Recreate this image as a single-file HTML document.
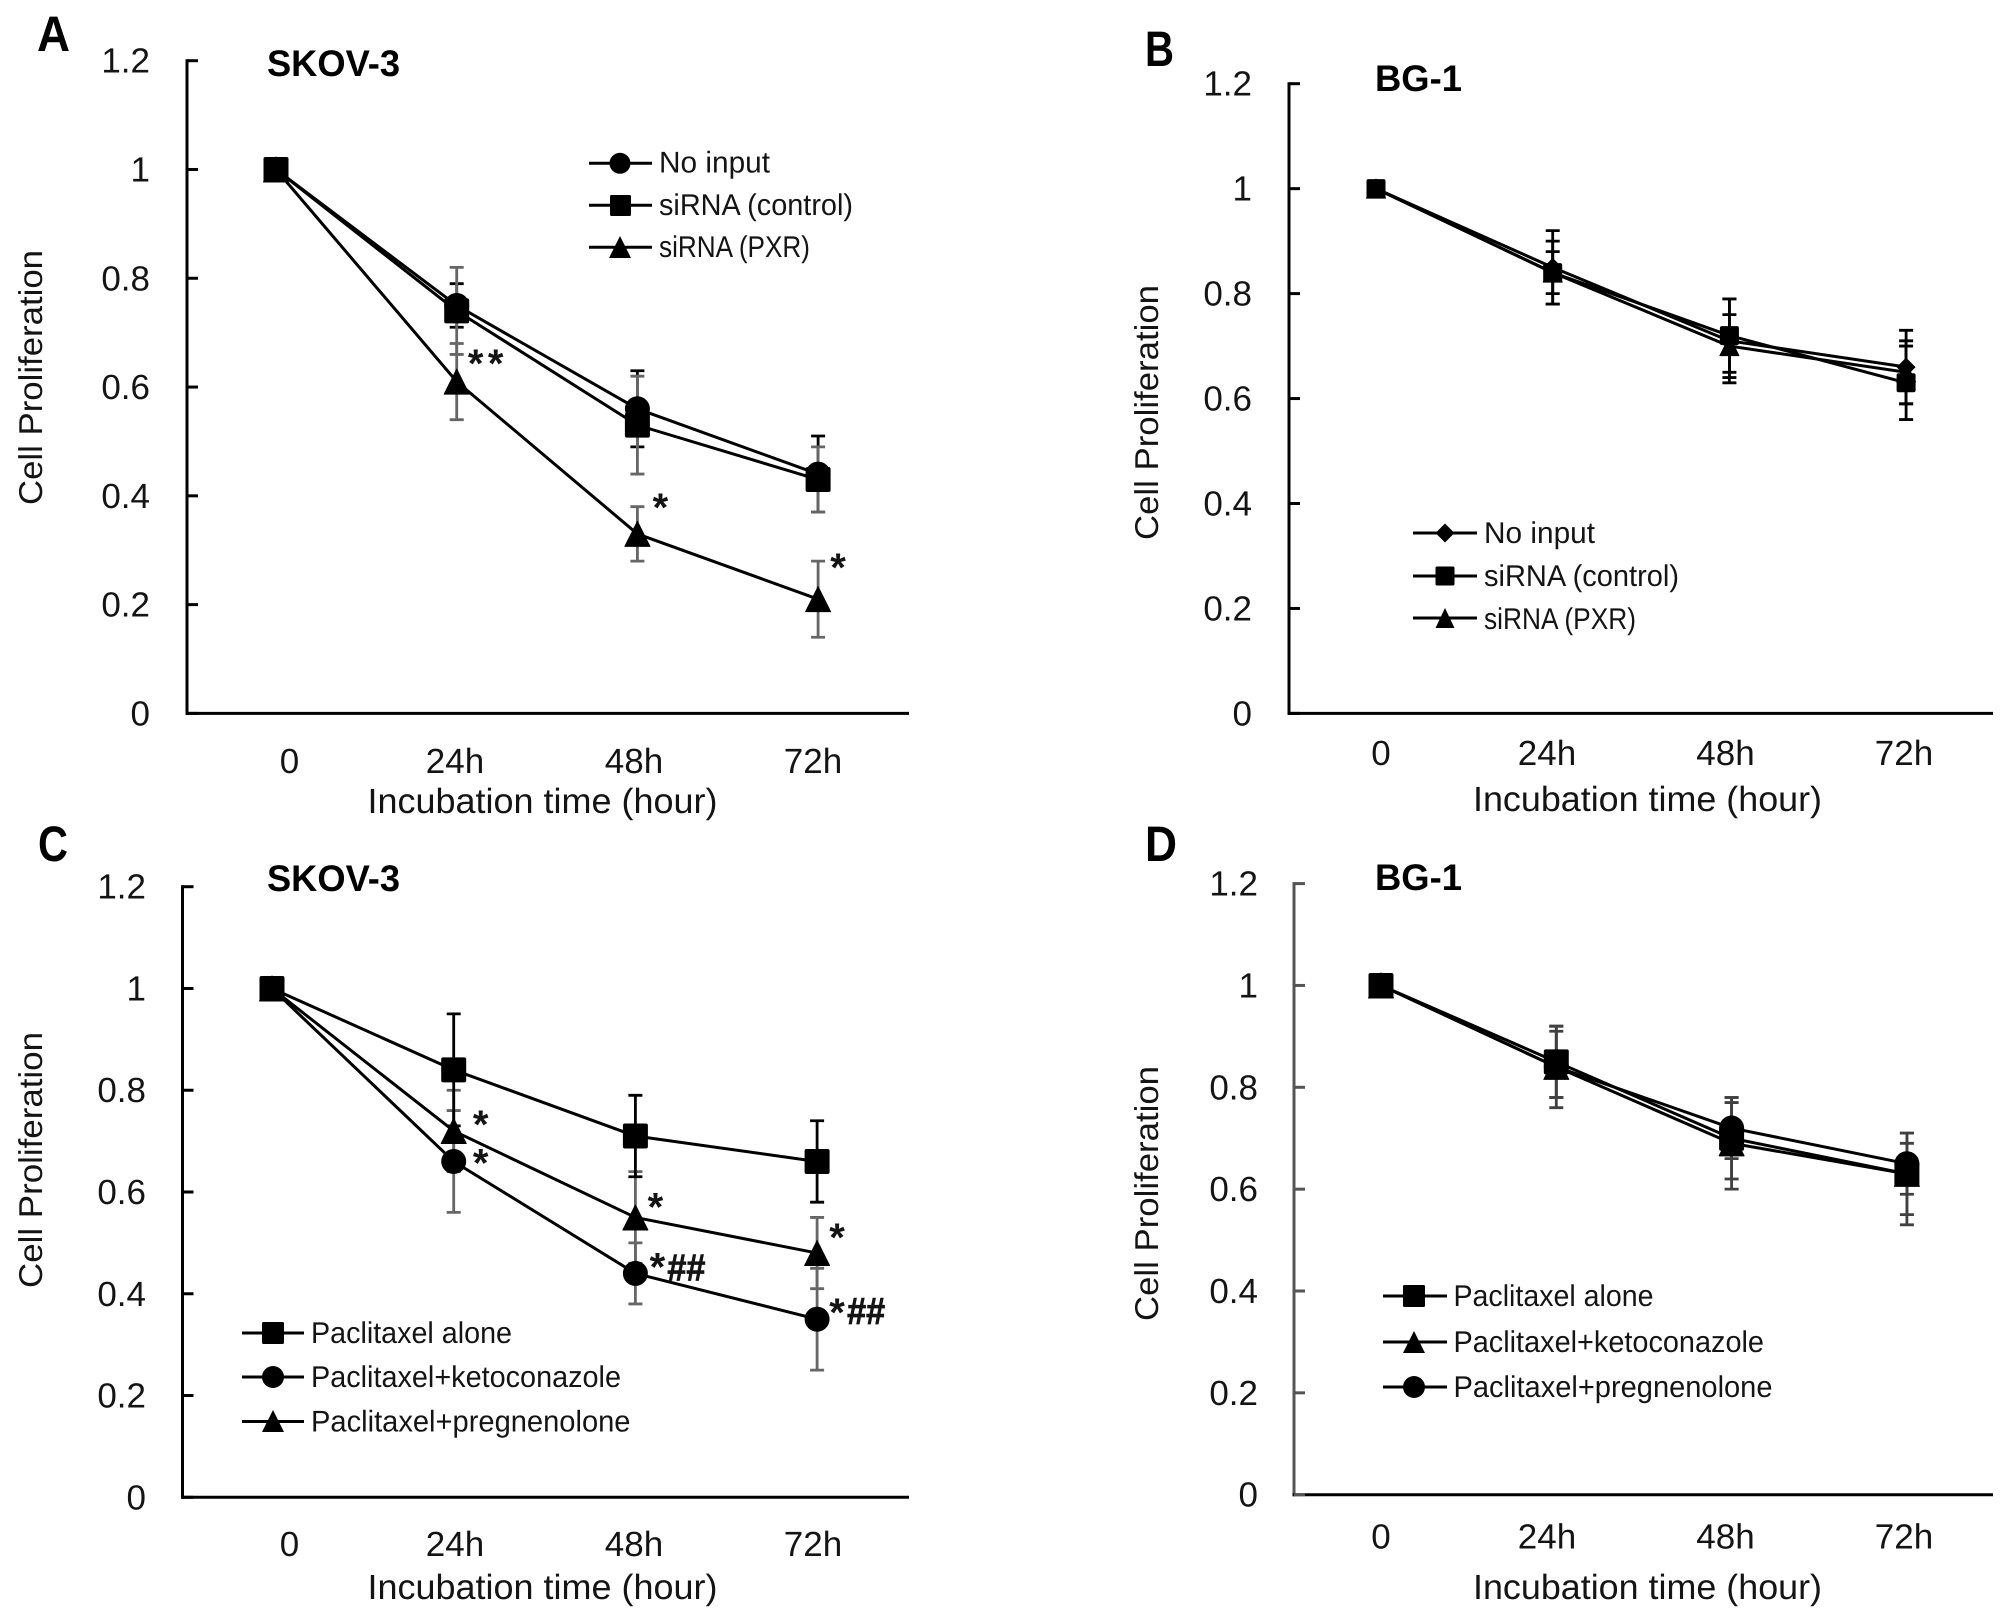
<!DOCTYPE html>
<html lang="en">
<head>
<meta charset="utf-8">
<title>Cell proliferation after PXR knockdown and paclitaxel treatment</title>
<style>
html,body{margin:0;padding:0;background:#fff;}
svg{display:block;}
text{font-family:"Liberation Sans",sans-serif;fill:#141414;text-rendering:geometricPrecision;}
.big{font-size:35px;}
.leg{font-size:30px;}
.ttl{font-size:37px;font-weight:700;fill:#000;}
.pl{font-size:50px;font-weight:700;fill:#000;}
.ytitle{font-size:33px;}
.mk{fill:#000;}
.ln{stroke:#000;stroke-width:3;fill:none;}
</style>
</head>
<body>
<svg id="fig" xmlns="http://www.w3.org/2000/svg" width="2008" height="1619" viewBox="0 0 2008 1619">
  <rect x="0" y="0" width="2008" height="1619" fill="#fff"/>

  <g id="panel-a">
    <text class="pl" x="37" y="51" textLength="33" lengthAdjust="spacingAndGlyphs">A</text>
    <text class="ttl" x="267" y="76" textLength="133" lengthAdjust="spacingAndGlyphs">SKOV-3</text>
    <text class="ytitle" transform="translate(42,505) rotate(-90)" textLength="255" lengthAdjust="spacingAndGlyphs">Cell Proliferation</text>
    <text class="big" x="367.5" y="813" textLength="350" lengthAdjust="spacingAndGlyphs">Incubation time (hour)</text>
    <g>
      <g><line class="ln" x1="589" x2="652" y1="163.3" y2="163.3"/><circle class="mk" cx="620" cy="163.3" r="10.5"/><text class="leg" x="659" y="172.7" textLength="111" lengthAdjust="spacingAndGlyphs">No input</text></g>
      <g><line class="ln" x1="589" x2="652" y1="205.3" y2="205.3"/><rect class="mk" x="610" y="195" width="21" height="21" rx="1.5"/><text class="leg" x="659" y="215" textLength="194" lengthAdjust="spacingAndGlyphs">siRNA (control)</text></g>
      <g><line class="ln" x1="589" x2="652" y1="247.3" y2="247.3"/><polygon class="mk" points="620,236 631,258 609,258"/><text class="leg" x="659" y="257" textLength="151" lengthAdjust="spacingAndGlyphs">siRNA (PXR)</text></g>
    </g>
  </g>

  <g id="panel-b">
    <text class="pl" x="1145" y="66" textLength="29" lengthAdjust="spacingAndGlyphs">B</text>
    <text class="ttl" x="1375" y="91" textLength="87" lengthAdjust="spacingAndGlyphs">BG-1</text>
    <text class="ytitle" transform="translate(1158,540) rotate(-90)" textLength="255" lengthAdjust="spacingAndGlyphs">Cell Proliferation</text>
    <text class="big" x="1473" y="811" textLength="349" lengthAdjust="spacingAndGlyphs">Incubation time (hour)</text>
    <g>
      <g><line class="ln" x1="1413" x2="1477" y1="533" y2="533"/><polygon class="mk" points="1445,523.5 1454.5,533 1445,542.5 1435.5,533"/><text class="leg" x="1484" y="543" textLength="111" lengthAdjust="spacingAndGlyphs">No input</text></g>
      <g><line class="ln" x1="1413" x2="1477" y1="576" y2="576"/><rect class="mk" x="1435.5" y="566.5" width="19" height="19" rx="1.5"/><text class="leg" x="1484" y="586" textLength="195" lengthAdjust="spacingAndGlyphs">siRNA (control)</text></g>
      <g><line class="ln" x1="1413" x2="1477" y1="618" y2="618"/><polygon class="mk" points="1445,608 1454.5,628 1435.5,628"/><text class="leg" x="1484" y="629" textLength="152" lengthAdjust="spacingAndGlyphs">siRNA (PXR)</text></g>
    </g>
  </g>

  <g id="panel-c">
    <text class="pl" x="38" y="861" textLength="30" lengthAdjust="spacingAndGlyphs">C</text>
    <text class="ttl" x="267" y="891" textLength="133" lengthAdjust="spacingAndGlyphs">SKOV-3</text>
    <text class="ytitle" transform="translate(42,1288) rotate(-90)" textLength="256" lengthAdjust="spacingAndGlyphs">Cell Proliferation</text>
    <text class="big" x="367.5" y="1599" textLength="350" lengthAdjust="spacingAndGlyphs">Incubation time (hour)</text>
    <g>
      <g><line class="ln" x1="242" x2="304" y1="1333" y2="1333"/><rect class="mk" x="262" y="1322" width="22" height="22" rx="1.5"/><text class="leg" x="311" y="1343" textLength="201" lengthAdjust="spacingAndGlyphs">Paclitaxel alone</text></g>
      <g><line class="ln" x1="242" x2="304" y1="1377" y2="1377"/><circle class="mk" cx="273" cy="1377" r="11"/><text class="leg" x="311" y="1387" textLength="310" lengthAdjust="spacingAndGlyphs">Paclitaxel+ketoconazole</text></g>
      <g><line class="ln" x1="242" x2="304" y1="1421.5" y2="1421.5"/><polygon class="mk" points="273,1410 284,1432 262,1432"/><text class="leg" x="311" y="1431.5" textLength="319.5" lengthAdjust="spacingAndGlyphs">Paclitaxel+pregnenolone</text></g>
    </g>
  </g>

  <g id="panel-d">
    <text class="pl" x="1145" y="861" textLength="32" lengthAdjust="spacingAndGlyphs">D</text>
    <text class="ttl" x="1375" y="890" textLength="87" lengthAdjust="spacingAndGlyphs">BG-1</text>
    <text class="ytitle" transform="translate(1158,1321) rotate(-90)" textLength="255" lengthAdjust="spacingAndGlyphs">Cell Proliferation</text>
    <text class="big" x="1473" y="1599" textLength="349" lengthAdjust="spacingAndGlyphs">Incubation time (hour)</text>
    <g>
      <g><line class="ln" x1="1383" x2="1447" y1="1296" y2="1296"/><rect class="mk" x="1403" y="1285" width="22" height="22" rx="1.5"/><text class="leg" x="1453.5" y="1306" textLength="200" lengthAdjust="spacingAndGlyphs">Paclitaxel alone</text></g>
      <g><line class="ln" x1="1383" x2="1447" y1="1342" y2="1342"/><polygon class="mk" points="1414,1331 1425,1353 1403,1353"/><text class="leg" x="1453.5" y="1352" textLength="310.5" lengthAdjust="spacingAndGlyphs">Paclitaxel+ketoconazole</text></g>
      <g><line class="ln" x1="1383" x2="1447" y1="1387" y2="1387"/><circle class="mk" cx="1414" cy="1387" r="11"/><text class="leg" x="1453.5" y="1397" textLength="319" lengthAdjust="spacingAndGlyphs">Paclitaxel+pregnenolone</text></g>
    </g>
  </g>
</svg>

<script>
// Shared axis values
const categories = ['0', '24h', '48h', '72h'];
const yTickLabels = ['0', '0.2', '0.4', '0.6', '0.8', '1', '1.2'];

// Panel A: SKOV-3, siRNA
const aNoInput = [1, 0.75, 0.56, 0.44];
const aNoInputHigh = [1, 0.79, 0.63, 0.51];
const aNoInputLow = [1, 0.71, 0.49, 0.37];
const aControl = [1, 0.74, 0.53, 0.43];
const aControlHigh = [1, 0.82, 0.62, 0.49];
const aControlLow = [1, 0.66, 0.44, 0.37];
const aPxr = [1, 0.61, 0.33, 0.21];
const aPxrHigh = [1, 0.68, 0.38, 0.28];
const aPxrLow = [1, 0.54, 0.28, 0.14];

// Panel B: BG-1, siRNA
const bNoInput = [1, 0.85, 0.71, 0.66];
const bNoInputHigh = [1, 0.92, 0.79, 0.73];
const bNoInputLow = [1, 0.78, 0.63, 0.59];
const bControl = [1, 0.84, 0.72, 0.63];
const bControlHigh = [1, 0.90, 0.79, 0.70];
const bControlLow = [1, 0.78, 0.65, 0.56];
const bPxr = [1, 0.84, 0.70, 0.65];
const bPxrHigh = [1, 0.88, 0.76, 0.71];
const bPxrLow = [1, 0.80, 0.64, 0.59];

// Panel C: SKOV-3, paclitaxel
const cAlone = [1, 0.84, 0.71, 0.66];
const cAloneHigh = [1, 0.95, 0.79, 0.74];
const cAloneLow = [1, 0.73, 0.63, 0.58];
const cKeto = [1, 0.66, 0.44, 0.35];
const cKetoHigh = [1, 0.76, 0.50, 0.45];
const cKetoLow = [1, 0.56, 0.38, 0.25];
const cPreg = [1, 0.72, 0.55, 0.48];
const cPregHigh = [1, 0.80, 0.64, 0.55];
const cPregLow = [1, 0.64, 0.46, 0.41];

// Panel D: BG-1, paclitaxel
const dAlone = [1, 0.85, 0.70, 0.63];
const dAloneHigh = [1, 0.92, 0.78, 0.71];
const dAloneLow = [1, 0.78, 0.62, 0.55];
const dKeto = [1, 0.84, 0.69, 0.63];
const dKetoHigh = [1, 0.92, 0.77, 0.69];
const dKetoLow = [1, 0.76, 0.60, 0.53];
const dPreg = [1, 0.84, 0.72, 0.65];
const dPregHigh = [1, 0.91, 0.78, 0.71];
const dPregLow = [1, 0.78, 0.66, 0.59];

const SVGNS = 'http://www.w3.org/2000/svg';
const yMax = 1.2;

function make(tag, parent, attrs) {
  const el = document.createElementNS(SVGNS, tag);
  for (const k in attrs) el.setAttribute(k, attrs[k]);
  parent.appendChild(el);
  return el;
}

function drawMarker(parent, shape, cx, cy, size, name) {
  const h = size / 2;
  let el;
  if (shape === 'circle') {
    el = make('circle', parent, { cx: cx, cy: cy, r: h, fill: '#000' });
  } else if (shape === 'square') {
    el = make('rect', parent, { x: cx - h, y: cy - h, width: size, height: size, rx: 2, fill: '#000' });
  } else if (shape === 'triangle') {
    el = make('polygon', parent, { points: cx + ',' + (cy - h) + ' ' + (cx + h) + ',' + (cy + h) + ' ' + (cx - h) + ',' + (cy + h), fill: '#000', stroke: '#000', 'stroke-width': 1, 'stroke-linejoin': 'round' });
  } else {
    el = make('polygon', parent, { points: cx + ',' + (cy - h) + ' ' + (cx + h) + ',' + cy + ' ' + cx + ',' + (cy + h) + ' ' + (cx - h) + ',' + cy, fill: '#000' });
  }
  
  
}

function drawPanel(p) {
  const root = document.getElementById(p.id);
  const xPos = function (i) { return p.x0 + i * p.step; };
  const yPos = function (v) { return p.yBase - (v / yMax) * (p.yBase - p.yTop); };

  const axes = make('g', root, {});
  
  

  const yAxis = make('line', axes, { x1: p.axisX, x2: p.axisX, y1: p.yTop - 1.5, y2: p.yBase + 1.5, stroke: p.yAxisColor, 'stroke-width': 3 });
  
  

  const xAxis = make('line', axes, { x1: p.axisX - 1.5, x2: p.axisEnd, y1: p.yBase, y2: p.yBase, stroke: '#000', 'stroke-width': 3 });
  
  

  yTickLabels.forEach(function (label) {
    const v = parseFloat(label);
    const y = yPos(v);
    const tick = make('line', axes, { x1: p.axisX, x2: p.axisX + 11, y1: y, y2: y, stroke: p.yAxisColor, 'stroke-width': 3 });
    
    
    const t = make('text', axes, { x: p.yLabelX, y: y + 12, 'text-anchor': 'end', 'class': 'big' });
    
    
    t.textContent = label;
  });

  categories.forEach(function (label, i) {
    const cx = p.labelX0 + i * p.labelStep + (i === 0 ? p.zeroNudge : 0);
    const t = make('text', axes, { x: cx, y: p.xLabelY, 'text-anchor': 'middle', 'class': 'big' });
    
    
    t.textContent = label;
  });

  p.series.forEach(function (s) {
    const g = make('g', root, {});
    
    
    s.values.forEach(function (v, i) {
      if (s.high[i] === s.low[i]) return;
      const x = xPos(i);
      const yh = yPos(s.high[i]);
      const yl = yPos(s.low[i]);
      const c = s.errColor;
      const bar = make('path', g, { d: 'M' + x + ' ' + yh + 'V' + yl + 'M' + (x - p.cap) + ' ' + yh + 'H' + (x + p.cap) + 'M' + (x - p.cap) + ' ' + yl + 'H' + (x + p.cap), stroke: c, 'stroke-width': 2.8, fill: 'none' });
      
      
    });
  });

  p.series.forEach(function (s) {
    const pts = s.values.map(function (v, i) { return xPos(i) + ',' + yPos(v); }).join(' ');
    const line = make('polyline', root, { points: pts, fill: 'none', stroke: '#000', 'stroke-width': 3, 'stroke-linejoin': 'round' });
    
    
  });

  p.series.forEach(function (s) {
    const g = make('g', root, {});
    
    
    s.values.forEach(function (v, i) {
      drawMarker(g, s.shape, xPos(i), yPos(v), p.marker, 'point-' + s.key);
    });
  });

  (p.notes || []).forEach(function (n) {
    const base = n.series;
    const nx = xPos(n.i);
    const ny = yPos(base[n.i]);
    if (n.hash) {
      const h = make('text', root, { x: nx + n.dx, y: ny + n.dy, 'font-size': 38, 'font-weight': 700, stroke: '#141414', 'stroke-width': 0.8, textLength: 38, lengthAdjust: 'spacingAndGlyphs' });
      
      
      h.textContent = n.hash;
    } else {
      const a = make('text', root, { x: nx + n.dx, y: ny + n.dy + 18, 'font-size': 40, 'font-weight': 700, 'text-anchor': 'middle' });
      
      
      a.textContent = '*';
    }
  });
}

drawPanel({
  id: 'panel-a', axisX: 187, axisEnd: 909, yTop: 60.7, yBase: 713.4, yLabelX: 150, yAxisColor: '#000',
  x0: 276, step: 180.7, marker: 25, cap: 7, labelX0: 276, labelStep: 179, zeroNudge: 13.5, xLabelY: 773,
  series: [
    { key: 'no-input', shape: 'circle', values: aNoInput, high: aNoInputHigh, low: aNoInputLow, errColor: '#000' },
    { key: 'sirna-control', shape: 'square', values: aControl, high: aControlHigh, low: aControlLow, errColor: '#666' },
    { key: 'sirna-pxr', shape: 'triangle', values: aPxr, high: aPxrHigh, low: aPxrLow, errColor: '#666' }
  ],
  notes: [
    { series: aPxr, i: 1, dx: 19, dy: -22.5 },
    { series: aPxr, i: 1, dx: 39, dy: -22.5 },
    { series: aPxr, i: 2, dx: 23, dy: -31 },
    { series: aPxr, i: 3, dx: 20, dy: -36 }
  ]
});

drawPanel({
  id: 'panel-b', axisX: 1289, axisEnd: 1993, yTop: 83.7, yBase: 713.4, yLabelX: 1252, yAxisColor: '#000',
  x0: 1376, step: 176.7, marker: 19, cap: 7, labelX0: 1368.5, labelStep: 178.5, zeroNudge: 12.5, xLabelY: 765,
  series: [
    { key: 'no-input', shape: 'diamond', values: bNoInput, high: bNoInputHigh, low: bNoInputLow, errColor: '#000' },
    { key: 'sirna-pxr', shape: 'triangle', values: bPxr, high: bPxrHigh, low: bPxrLow, errColor: '#000' },
    { key: 'sirna-control', shape: 'square', values: bControl, high: bControlHigh, low: bControlLow, errColor: '#000' }
  ]
});

drawPanel({
  id: 'panel-c', axisX: 182.5, axisEnd: 909, yTop: 886.7, yBase: 1497.3, yLabelX: 146, yAxisColor: '#000',
  x0: 272, step: 181.7, marker: 25, cap: 7, labelX0: 276, labelStep: 179, zeroNudge: 13.5, xLabelY: 1556,
  series: [
    { key: 'paclitaxel-pregnenolone', shape: 'triangle', values: cPreg, high: cPregHigh, low: cPregLow, errColor: '#666' },
    { key: 'paclitaxel-ketoconazole', shape: 'circle', values: cKeto, high: cKetoHigh, low: cKetoLow, errColor: '#666' },
    { key: 'paclitaxel-alone', shape: 'square', values: cAlone, high: cAloneHigh, low: cAloneLow, errColor: '#000' }
  ],
  notes: [
    { series: cPreg, i: 1, dx: 27, dy: -11 },
    { series: cKeto, i: 1, dx: 27, dy: -3 },
    { series: cPreg, i: 2, dx: 20, dy: -15 },
    { series: cPreg, i: 3, dx: 20, dy: -20 },
    { series: cKeto, i: 2, dx: 22, dy: -11 },
    { series: cKeto, i: 2, dx: 32, dy: 7, hash: '##' },
    { series: cKeto, i: 3, dx: 20, dy: -11 },
    { series: cKeto, i: 3, dx: 30, dy: 5, hash: '##' }
  ]
});

drawPanel({
  id: 'panel-d', axisX: 1294, axisEnd: 1993, yTop: 883.6, yBase: 1494.7, yLabelX: 1258, yAxisColor: '#555',
  x0: 1381, step: 175.3, marker: 25, cap: 7, labelX0: 1368.5, labelStep: 178.5, zeroNudge: 12.5, xLabelY: 1548.5,
  series: [
    { key: 'paclitaxel-ketoconazole', shape: 'triangle', values: dKeto, high: dKetoHigh, low: dKetoLow, errColor: '#404040' },
    { key: 'paclitaxel-pregnenolone', shape: 'circle', values: dPreg, high: dPregHigh, low: dPregLow, errColor: '#404040' },
    { key: 'paclitaxel-alone', shape: 'square', values: dAlone, high: dAloneHigh, low: dAloneLow, errColor: '#404040' }
  ]
});
</script>
</body>
</html>
